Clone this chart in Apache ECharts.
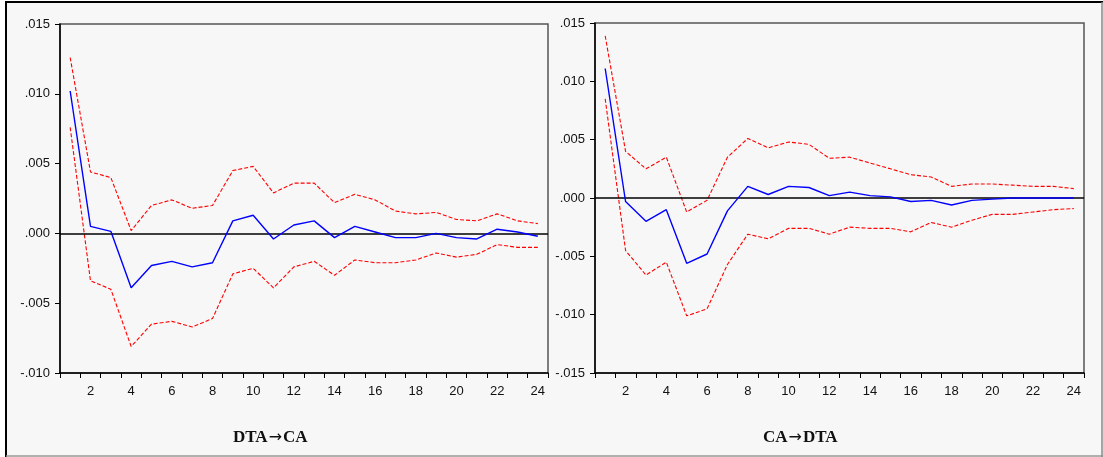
<!DOCTYPE html>
<html><head><meta charset="utf-8">
<script src="https://cdn.jsdelivr.net/npm/echarts@6/dist/echarts.min.js"></script>
<style>html,body{margin:0;padding:0;background:#fff}#c{width:1103px;height:457px}</style>
</head><body><div id="c"></div>
<script>
var periods = ['1','2','3','4','5','6','7','8','9','10','11','12','13','14','15','16','17','18','19','20','21','22','23','24'];
var titles = [['DTA', 'CA'], ['CA', 'DTA']];

// Panel 1: DTA -> CA
var dtaCaResp  = [0.0102,0.0005,0.00015,-0.0039,-0.0023,-0.0020,-0.0024,-0.0021,0.0009,0.0013,-0.0004,0.0006,0.0009,-0.0003,0.0005,0.0001,-0.0003,-0.0003,0.0000,-0.0003,-0.0004,0.0003,0.0001,-0.0002];
var dtaCaUpper = [0.0126,0.0044,0.0040,0.0002,0.0020,0.0024,0.0018,0.0020,0.0045,0.0048,0.0029,0.0036,0.0036,0.0022,0.0028,0.0024,0.0016,0.0014,0.0015,0.0010,0.0009,0.0014,0.0009,0.0007];
var dtaCaLower = [0.0076,-0.0034,-0.0040,-0.0081,-0.0065,-0.0063,-0.0067,-0.0061,-0.0029,-0.0025,-0.0039,-0.0024,-0.0020,-0.0030,-0.0019,-0.0021,-0.0021,-0.0019,-0.0014,-0.0017,-0.0015,-0.0008,-0.0010,-0.0010];

// Panel 2: CA -> DTA
var caDtaResp  = [0.0111,-0.0003,-0.0020,-0.0010,-0.0056,-0.0048,-0.0011,0.0010,0.0003,0.0010,0.0009,0.0002,0.0005,0.0002,0.0001,-0.0003,-0.0002,-0.0006,-0.0002,-0.0001,0.0000,0.0000,0.0000,0.0000];
var caDtaUpper = [0.0139,0.0040,0.0025,0.0035,-0.0012,-0.0002,0.0035,0.0051,0.0043,0.0048,0.0046,0.0034,0.0035,0.0030,0.0025,0.0020,0.0018,0.0010,0.0012,0.0012,0.0011,0.0010,0.0010,0.0008];
var caDtaLower = [0.0085,-0.0045,-0.0066,-0.0055,-0.0101,-0.0095,-0.0057,-0.0031,-0.0035,-0.0026,-0.0026,-0.0031,-0.0025,-0.0026,-0.0026,-0.0029,-0.0021,-0.0025,-0.0019,-0.0014,-0.0014,-0.0012,-0.0010,-0.0009];

var yTickFmt = function (v) {
  var s = v.toFixed(3);
  return s.replace(/^(-?)0\./, '$1.');
};

var labelFont = {fontFamily: 'Liberation Sans, Arial, sans-serif', fontSize: 13, color: '#111'};

function xAxis(gi) {
  return {
    type: 'category', gridIndex: gi, data: periods, boundaryGap: true,
    axisLine: {show: true, onZero: false, lineStyle: {color: '#000', width: 1.5}},
    axisTick: {show: true, interval: 0, length: 5, lineStyle: {color: '#000', width: 1}},
    axisLabel: Object.assign({interval: function (i) { return i % 2 === 1; }, margin: 12}, labelFont),
    splitLine: {show: false}
  };
}
function yAxis(gi, min, max) {
  return {
    type: 'value', gridIndex: gi, min: min, max: max, interval: 0.005,
    axisLine: {show: true, lineStyle: {color: '#000', width: 1.5}},
    axisTick: {show: true, length: 5, lineStyle: {color: '#000', width: 1}},
    axisLabel: Object.assign({formatter: yTickFmt, margin: 10}, labelFont),
    splitLine: {show: false}
  };
}
function respSeries(gi, data) {
  return {
    type: 'line', xAxisIndex: gi, yAxisIndex: gi, data: data, symbol: 'none',
    lineStyle: {color: '#0000ff', width: 1.4}, z: 5, animation: false,
    markLine: {
      silent: true, symbol: 'none', label: {show: false},
      lineStyle: {color: '#000', width: 1.5, type: 'solid'},
      data: [{yAxis: 0}]
    }
  };
}
function bandSeries(gi, data) {
  return {
    type: 'line', xAxisIndex: gi, yAxisIndex: gi, data: data, symbol: 'none',
    lineStyle: {color: '#ff0000', width: 1.1, type: [4, 2]}, z: 4, animation: false
  };
}
function titleText(x, parts) {
  return {
    type: 'text', left: x, top: 429, silent: true,
    style: {
      text: '{a|' + parts[0] + '}{b|\u2192}{a|' + parts[1] + '}',
      rich: {
        a: {fontFamily: '"Liberation Serif", "Times New Roman", serif', fontWeight: 'bold', fontSize: 17, fill: '#111', color: '#111', verticalAlign: 'middle'},
        b: {fontFamily: '"DejaVu Sans", sans-serif', fontSize: 16, fill: '#111', color: '#111', verticalAlign: 'middle', padding: [0, 1, 0, 1]}
      }
    }
  };
}

var chart = echarts.init(document.getElementById('c'), null, {renderer: 'canvas'});
chart.setOption({
  backgroundColor: '#ffffff',
  animation: false,
  graphic: [
    {type: 'rect', shape: {x: 6, y: 2, width: 1096, height: 455}, style: {fill: '#f7f7f7'}, z: -10, silent: true},
    {type: 'line', shape: {x1: 5, y1: 2, x2: 1103, y2: 2}, style: {stroke: '#000', lineWidth: 2}, silent: true},
    {type: 'line', shape: {x1: 6, y1: 2, x2: 6, y2: 457}, style: {stroke: '#000', lineWidth: 2}, silent: true},
    {type: 'line', shape: {x1: 6, y1: 456, x2: 1103, y2: 456}, style: {stroke: '#999', lineWidth: 1.5}, silent: true},
    {type: 'line', shape: {x1: 1102, y1: 2, x2: 1102, y2: 457}, style: {stroke: '#888', lineWidth: 1.5}, silent: true},
    titleText(233, titles[0]),
    titleText(763, titles[1])
  ],
  grid: [
    {left: 60, top: 24, width: 488, height: 349, show: true, borderColor: '#555', borderWidth: 1.5, backgroundColor: 'transparent'},
    {left: 595, top: 23, width: 489, height: 350, show: true, borderColor: '#555', borderWidth: 1.5, backgroundColor: 'transparent'}
  ],
  xAxis: [xAxis(0), xAxis(1)],
  yAxis: [yAxis(0, -0.010, 0.015), yAxis(1, -0.015, 0.015)],
  series: [
    bandSeries(0, dtaCaUpper),
    bandSeries(0, dtaCaLower),
    respSeries(0, dtaCaResp),
    bandSeries(1, caDtaUpper),
    bandSeries(1, caDtaLower),
    respSeries(1, caDtaResp)
  ]
});
</script></body></html>
